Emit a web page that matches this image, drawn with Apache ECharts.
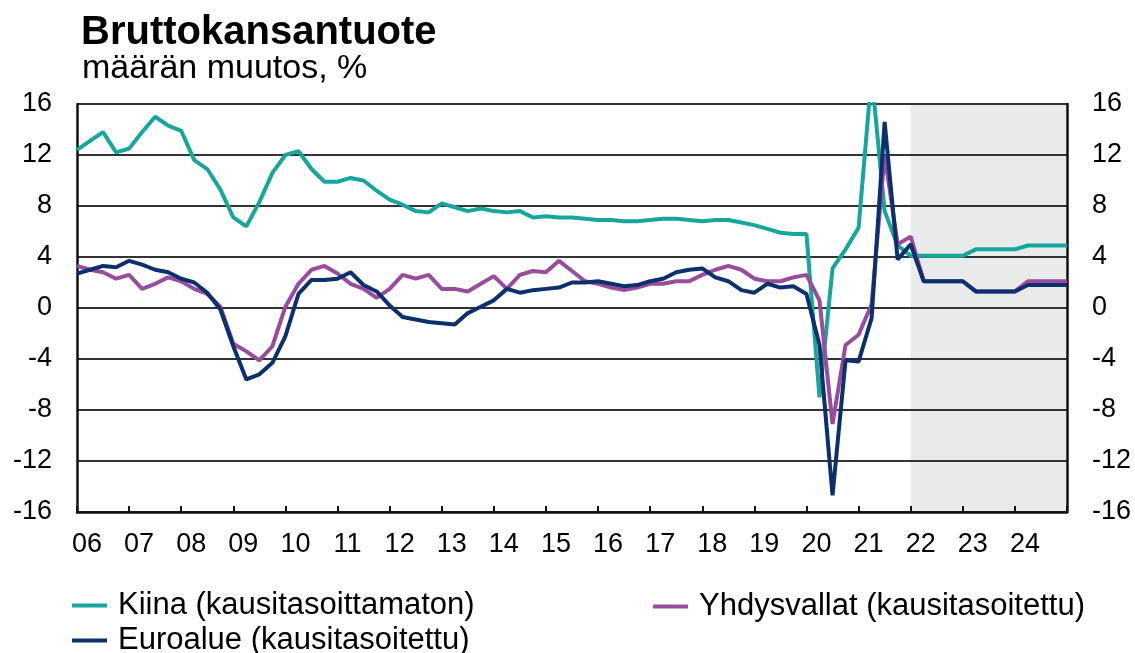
<!DOCTYPE html>
<html>
<head>
<meta charset="utf-8">
<title>Bruttokansantuote</title>
<script src="https://cdn.jsdelivr.net/npm/echarts@6/dist/echarts.min.js"></script>
<style>
  html, body { margin: 0; padding: 0; background: #fff; }
  #chart { width: 1135px; height: 653px; }
</style>
</head>
<body>
<div id="chart"></div>
<script>
// year on year change, quarterly, 2005Q4 .. 2024Q4 (forecast from 2022)
const quarters = [];
for (let y = 2005; y <= 2024; y++) {
  for (let q = 1; q <= 4; q++) {
    if (y === 2005 && q < 4) continue;
    quarters.push(y + 'Q' + q);
  }
}

const yearLabels = ['06', '07', '08', '09', '10', '11', '12', '13', '14', '15',
  '16', '17', '18', '19', '20', '21', '22', '23', '24'];
const yTicks = [-16, -12, -8, -4, 0, 4, 8, 12, 16];

const kiina = [
  12.4, 13.1, 13.8, 12.2, 12.5, 13.8, 15.0, 14.3, 13.9, 11.6, 10.9, 9.3, 7.1,
  6.4, 8.3, 10.6, 12.0, 12.3, 10.9, 9.9, 9.9, 10.2, 10.0, 9.2, 8.5,
  8.1, 7.6, 7.5, 8.2, 7.9, 7.6, 7.8, 7.6, 7.5, 7.6, 7.1, 7.2,
  7.1, 7.1, 7.0, 6.9, 6.9, 6.8, 6.8, 6.9, 7.0, 7.0, 6.9, 6.8,
  6.9, 6.9, 6.7, 6.5, 6.2, 5.9, 5.8, 5.8, -7.0, 3.1, 4.6, 6.3,
  18.3, 7.6, 4.9, 4.1, 4.1, 4.1, 4.1, 4.1, 4.6, 4.6, 4.6, 4.6,
  4.9, 4.9, 4.9, 4.9
];
const yhdysvallat = [
  3.3, 3.0, 2.8, 2.3, 2.6, 1.5, 1.9, 2.4, 2.1, 1.5, 1.1, 0.1, -2.8,
  -3.4, -4.1, -3.0, 0.1, 1.9, 3.0, 3.3, 2.7, 1.9, 1.5, 0.8, 1.5,
  2.6, 2.3, 2.6, 1.5, 1.5, 1.3, 1.9, 2.5, 1.5, 2.6, 2.9, 2.8,
  3.7, 2.9, 2.1, 1.9, 1.6, 1.4, 1.6, 1.9, 1.9, 2.1, 2.1, 2.6,
  3.0, 3.3, 3.0, 2.3, 2.1, 2.1, 2.4, 2.6, 0.6, -9.1, -2.9, -2.1,
  0.3, 12.0, 5.0, 5.6, 2.1, 2.1, 2.1, 2.1, 1.3, 1.3, 1.3, 1.3,
  2.1, 2.1, 2.1, 2.1
];
const euroalue = [
  2.7, 3.0, 3.3, 3.2, 3.7, 3.4, 3.0, 2.8, 2.3, 2.0, 1.2, -0.1, -3.0,
  -5.6, -5.2, -4.3, -2.2, 1.1, 2.2, 2.2, 2.3, 2.8, 1.8, 1.3, 0.2,
  -0.7, -0.9, -1.1, -1.2, -1.3, -0.4, 0.1, 0.6, 1.5, 1.2, 1.4, 1.5,
  1.6, 2.0, 2.0, 2.1, 1.9, 1.7, 1.8, 2.1, 2.3, 2.8, 3.0, 3.1,
  2.4, 2.1, 1.4, 1.2, 1.9, 1.6, 1.7, 1.1, -2.9, -14.7, -4.1, -4.2,
  -0.8, 14.6, 3.8, 5.0, 2.1, 2.1, 2.1, 2.1, 1.3, 1.3, 1.3, 1.3,
  1.8, 1.8, 1.8, 1.8
];
const forecastFrom = '2021Q4';

const names = ['Kiina (kausitasoittamaton)', 'Yhdysvallat (kausitasoitettu)', 'Euroalue (kausitasoitettu)'];
const colors = ['#17a69b', '#984c9c', '#0c2f6d'];

// quarter end as a position on the year axis
const toX = s => +s.slice(0, 4) + (+s.slice(5)) / 4;
const pairs = vals => quarters.map((s, i) => [toX(s), vals[i]]);

const font = "'Liberation Sans', Arial, sans-serif";
const chart = echarts.init(document.getElementById('chart'));

const lineSeries = (name, vals, color) => ({
  name: name,
  type: 'line',
  data: pairs(vals),
  showSymbol: false,
  color: color,
  lineStyle: { width: 4, color: color },
  z: 3,
  animation: false
});

const legendAt = (name, left, top) => ({
  data: [name],
  left: left,
  top: top,
  icon: 'rect',
  itemWidth: 35,
  itemHeight: 4,
  selectedMode: false,
  textStyle: { fontFamily: font, fontSize: 31, color: '#000', padding: [0, 0, 0, 6] }
});

const yAxisBase = {
  type: 'value',
  min: yTicks[0],
  max: yTicks[yTicks.length - 1],
  interval: 4,
  z: 2,
  axisLine: { show: true, lineStyle: { color: '#111', width: 2.5 } },
  axisTick: { show: false },
  axisLabel: { fontFamily: font, fontSize: 27, color: '#000', margin: 25 }
};

chart.setOption({
  backgroundColor: '#fff',
  title: [
    { text: 'Bruttokansantuote', left: 76, top: 8,
      textStyle: { fontFamily: font, fontSize: 40, fontWeight: 'bold', color: '#000' } },
    { text: 'määrän muutos, %', left: 77, top: 47,
      textStyle: { fontFamily: font, fontSize: 34, fontWeight: 'normal', color: '#000' } }
  ],
  legend: [
    legendAt(names[0], 67, 585),
    legendAt(names[1], 648, 586),
    legendAt(names[2], 67, 620)
  ],
  grid: { left: 77, right: 68, top: 104, bottom: 141, containLabel: false },
  xAxis: {
    type: 'value',
    min: 2006,
    max: 2025,
    interval: 1,
    z: 2,
    splitLine: { show: false },
    axisLine: { show: true, onZero: false, lineStyle: { color: '#111', width: 2.5 } },
    axisTick: { show: true, inside: true, length: 6, lineStyle: { color: '#111', width: 2 } },
    axisLabel: {
      fontFamily: font, fontSize: 27, color: '#000', margin: 19, padding: [0, 0, 0, 20],
      formatter: v => (v >= 2006 && v < 2025) ? yearLabels[v - 2006] : ''
    }
  },
  yAxis: [
    Object.assign({}, yAxisBase, {
      position: 'left',
      splitLine: { show: true, lineStyle: { color: '#333', width: 2 } }
    }),
    Object.assign({}, yAxisBase, {
      position: 'right',
      splitLine: { show: false }
    })
  ],
  series: [
    {
      type: 'line',
      data: [],
      z: 1,
      silent: true,
      markArea: {
        silent: true,
        itemStyle: { color: '#e9eaea' },
        data: [[{ xAxis: toX(forecastFrom) }, { xAxis: 2025 }]]
      }
    },
    lineSeries(names[0], kiina, colors[0]),
    lineSeries(names[1], yhdysvallat, colors[1]),
    lineSeries(names[2], euroalue, colors[2])
  ]
});
</script>
</body>
</html>
